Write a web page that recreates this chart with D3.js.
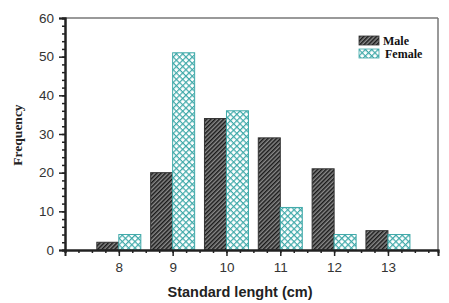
<!DOCTYPE html>
<html>
<head>
<meta charset="utf-8">
<script src="https://cdn.jsdelivr.net/npm/d3@7"></script>
<style>
  body { margin: 0; background: #fff; }
</style>
</head>
<body>
<div id="chart"></div>
<script>
var lengths = [8, 9, 10, 11, 12, 13];
var maleFreq = [2, 20, 34, 29, 21, 5];
var femaleFreq = [4, 51, 36, 11, 4, 4];
var yTicks = [0, 10, 20, 30, 40, 50, 60];

var margin = {top: 18, right: 11, bottom: 53, left: 65},
    width = 449 - margin.left - margin.right,
    height = 303 - margin.top - margin.bottom;

var svg = d3.select("#chart")
  .append("svg")
    .attr("width", 449)
    .attr("height", 303);

// patterns
var defs = svg.append("defs");
var hatch = defs.append("pattern")
    .attr("id", "maleHatch")
    .attr("patternUnits", "userSpaceOnUse")
    .attr("width", 3).attr("height", 3)
    .attr("patternTransform", "rotate(45)");
hatch.append("rect").attr("width", 3).attr("height", 3).attr("fill", "#8a8a8a");
hatch.append("rect").attr("width", 1.5).attr("height", 3).attr("fill", "#1a1a1a");

var cross = defs.append("pattern")
    .attr("id", "femaleCross")
    .attr("patternUnits", "userSpaceOnUse")
    .attr("width", 4.5).attr("height", 4.5)
    .attr("patternTransform", "rotate(45)");
cross.append("rect").attr("width", 4.5).attr("height", 4.5).attr("fill", "#ffffff");
cross.append("rect").attr("width", 1.2).attr("height", 4.5).attr("fill", "#3fa9a9");
cross.append("rect").attr("width", 4.5).attr("height", 1.2).attr("fill", "#3fa9a9");

var g = svg.append("g")
    .attr("transform", "translate(" + margin.left + "," + margin.top + ")");

var x = d3.scaleLinear()
    .domain([7, 13.93])
    .range([0, width]);

var y = d3.scaleLinear()
    .domain([0, 60])
    .range([height, 0]);

var barW = 22;

// frame top and right
g.append("line")
    .attr("x1", 0).attr("x2", width).attr("y1", 0).attr("y2", 0)
    .attr("stroke", "#777").attr("stroke-width", 1.5);
g.append("line")
    .attr("x1", width).attr("x2", width).attr("y1", 0).attr("y2", height)
    .attr("stroke", "#777").attr("stroke-width", 1.5);

// bars
g.selectAll(".male")
  .data(lengths)
  .enter()
  .append("rect")
    .attr("x", function(d){ return x(d) - barW })
    .attr("y", function(d, i){ return y(maleFreq[i]) })
    .attr("width", barW)
    .attr("height", function(d, i){ return height - y(maleFreq[i]) })
    .attr("fill", "url(#maleHatch)")
    .attr("stroke", "#333")
    .attr("stroke-width", 1);

g.selectAll(".female")
  .data(lengths)
  .enter()
  .append("rect")
    .attr("x", function(d){ return x(d) })
    .attr("y", function(d, i){ return y(femaleFreq[i]) })
    .attr("width", barW)
    .attr("height", function(d, i){ return height - y(femaleFreq[i]) })
    .attr("fill", "url(#femaleCross)")
    .attr("stroke", "#3fa9a9")
    .attr("stroke-width", 1);

// x axis: minor ticks then major
var xMinor = d3.range(7, 13.94, 0.25);
var xAxisG = g.append("g")
    .attr("transform", "translate(0," + height + ")");
xAxisG.call(d3.axisBottom(x).tickValues(xMinor).tickSize(3).tickFormat(""));
xAxisG.append("g").call(d3.axisBottom(x).tickValues(lengths).tickSize(6).tickPadding(6)
    .tickFormat(d3.format("d")));
xAxisG.selectAll(".domain").attr("stroke", "#222").attr("stroke-width", 2);
xAxisG.selectAll(".tick line").attr("stroke", "#222").attr("stroke-width", 1.5);
xAxisG.selectAll("text")
    .attr("font-family", "Liberation Sans, Arial, sans-serif")
    .attr("font-size", 13.5)
    .attr("fill", "#333");

// y axis
var yMinor = d3.range(0, 61, 2);
var yAxisG = g.append("g");
yAxisG.call(d3.axisLeft(y).tickValues(yMinor).tickSize(3).tickFormat(""));
yAxisG.append("g").call(d3.axisLeft(y).tickValues(yTicks).tickSize(6).tickPadding(5));
yAxisG.selectAll(".domain").attr("stroke", "#222").attr("stroke-width", 2);
yAxisG.selectAll(".tick line").attr("stroke", "#222").attr("stroke-width", 1.5);
yAxisG.selectAll("text")
    .attr("font-family", "Liberation Sans, Arial, sans-serif")
    .attr("font-size", 13.5)
    .attr("fill", "#333");

// axis titles
svg.append("text")
    .attr("x", 240)
    .attr("y", 297)
    .attr("text-anchor", "middle")
    .attr("font-family", "Liberation Sans, Arial, sans-serif")
    .attr("font-weight", "bold")
    .attr("font-size", 14.5)
    .attr("fill", "#222")
    .text("Standard lenght (cm)");

svg.append("text")
    .attr("transform", "translate(22,135) rotate(-90)")
    .attr("text-anchor", "middle")
    .attr("font-family", "Liberation Serif, Times New Roman, serif")
    .attr("font-weight", "bold")
    .attr("font-size", 13.5)
    .attr("fill", "#222")
    .text("Frequency");

// legend
var legend = [
  {name: "Male", fill: "url(#maleHatch)", stroke: "#333", dx: 0},
  {name: "Female", fill: "url(#femaleCross)", stroke: "#3fa9a9", dx: 2}
];
var lg = svg.append("g").attr("transform", "translate(359,36)");
lg.selectAll("rect")
  .data(legend)
  .enter()
  .append("rect")
    .attr("x", 0)
    .attr("y", function(d, i){ return i * 13 })
    .attr("width", 20).attr("height", 9)
    .attr("fill", function(d){ return d.fill })
    .attr("stroke", function(d){ return d.stroke })
    .attr("stroke-width", 0.8);
lg.selectAll("text")
  .data(legend)
  .enter()
  .append("text")
    .attr("x", function(d){ return 24 + d.dx })
    .attr("y", function(d, i){ return i * 13 + 8.5 })
    .attr("font-family", "Liberation Serif, Times New Roman, serif")
    .attr("font-weight", "bold")
    .attr("font-size", 12)
    .attr("fill", "#111")
    .text(function(d){ return d.name });
</script>
</body>
</html>
